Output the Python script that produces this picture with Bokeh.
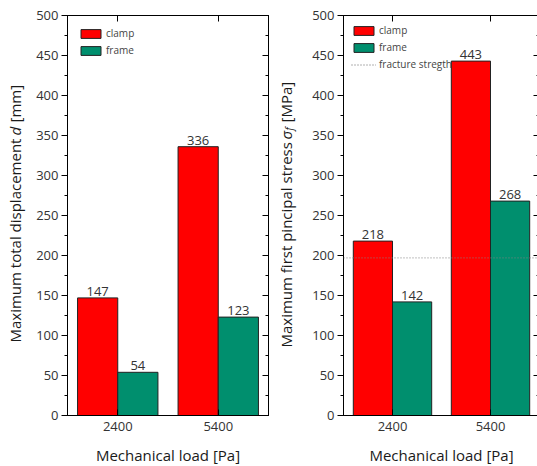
from math import pi
from bokeh.plotting import figure
from bokeh.models import (ColumnDataSource, FactorRange, Range1d, LinearAxis, CategoricalAxis,
                          SingleIntervalTicker, Span, Legend, LegendItem, CustomLabelingPolicy)
from bokeh.transform import dodge
from bokeh.core.properties import value
from bokeh.layouts import row
from bokeh.embed import file_html
from bokeh.resources import INLINE

# ---- data ----
loads = ["2400", "5400"]
disp_clamp = [147, 336]
disp_frame = [54, 123]
stress_clamp = [218, 443]
stress_frame = [142, 268]
fracture_strength = 197
series_names = ["clamp", "frame"]
fracture_name = "fracture stregth"
x_label = "Mechanical load [Pa]"

RED = "#FF0000"
GREEN = "#008F6E"
FONT = "Open Sans"
TICK_COLOR = "#333333"
LABEL_COLOR = "#1a1a1a"
TOP, BOTTOM, FH = 15, 51, 400


def no_labels():
    return CustomLabelingPolicy(code="for (const i of indices) indices.unset(i)\nreturn indices")


def make_panel(clamp, frame, fw, border_left, border_right, legend_margin, fracture=None):
    src = ColumnDataSource(dict(load=loads, clamp=clamp, frame=frame,
                                clamp_txt=[str(v) for v in clamp],
                                frame_txt=[str(v) for v in frame]))
    p = figure(x_range=FactorRange(factors=loads, range_padding=0),
               y_range=Range1d(0, 500),
               frame_width=fw, frame_height=FH,
               min_border_left=border_left, min_border_right=border_right,
               min_border_top=TOP, min_border_bottom=BOTTOM,
               output_backend="svg", toolbar_location=None,
               y_axis_location=None)
    p.xgrid.visible = False
    p.ygrid.visible = False
    p.outline_line_color = "black"
    p.outline_line_width = 1

    yl = LinearAxis(ticker=SingleIntervalTicker(interval=50, num_minor_ticks=2),
                    major_tick_out=6, major_tick_in=0, minor_tick_out=3, minor_tick_in=0,
                    major_label_standoff=3,
                    major_label_text_font=FONT, major_label_text_font_size="13px",
                    major_label_text_color=TICK_COLOR,
                    axis_line_color="black", major_tick_line_color="black",
                    minor_tick_line_color="black")
    p.add_layout(yl, "left")
    yr = LinearAxis(ticker=SingleIntervalTicker(interval=50, num_minor_ticks=2),
                    major_tick_out=0, major_tick_in=6, minor_tick_out=0, minor_tick_in=3,
                    major_label_standoff=0, major_label_text_font_size="1px",
                    major_label_policy=no_labels(),
                    axis_line_color="black", major_tick_line_color="black",
                    minor_tick_line_color="black")
    p.add_layout(yr, "right")
    xa = p.xaxis[0]
    xa.major_tick_in = 6
    xa.major_tick_out = 0
    xa.major_label_standoff = 6
    xa.major_label_text_font = FONT
    xa.major_label_text_font_size = "13px"
    xa.major_label_text_color = TICK_COLOR
    xa.axis_label = x_label
    xa.axis_label_text_font = FONT
    xa.axis_label_text_font_size = "15px"
    xa.axis_label_text_font_style = "normal"
    xa.axis_label_text_color = LABEL_COLOR
    xa.axis_label_standoff = 11
    xa.axis_line_color = "black"
    xa.major_tick_line_color = "black"
    xt = CategoricalAxis(major_tick_out=0, major_tick_in=6, major_label_standoff=0,
                         major_label_text_font_size="1px", major_label_policy=no_labels(),
                         axis_line_color="black", major_tick_line_color="black")
    p.add_layout(xt, "above")

    r1 = p.vbar(x=dodge("load", -0.2, range=p.x_range), top="clamp", width=0.4, source=src,
                fill_color=RED, line_color="#222222", line_width=1)
    r2 = p.vbar(x=dodge("load", 0.2, range=p.x_range), top="frame", width=0.4, source=src,
                fill_color=GREEN, line_color="#222222", line_width=1)
    for off, col in ((-0.2, "clamp"), (0.2, "frame")):
        p.text(x=dodge("load", off, range=p.x_range), y=col, text=col + "_txt", source=src,
               text_align="center", text_baseline="bottom", y_offset=-2,
               text_font=value(FONT), text_font_size="13px", text_color=TICK_COLOR)

    items = [LegendItem(label=series_names[0], renderers=[r1]),
             LegendItem(label=series_names[1], renderers=[r2])]
    if fracture is not None:
        p.add_layout(Span(location=fracture, dimension="width", line_color="#808080",
                          line_dash="1 2", line_width=1))
        r3 = p.line(x=[loads[0]], y=[fracture], line_color="#606060", line_dash="1 2",
                    line_width=1)
        items.append(LegendItem(label=fracture_name, renderers=[r3]))
    leg = Legend(items=items, location="top_left", margin=legend_margin, padding=0, spacing=3,
                 glyph_width=25, glyph_height=11, label_height=11, label_standoff=3,
                 label_text_font=FONT, label_text_font_size="10px",
                 label_text_color="#444444", border_line_alpha=0,
                 background_fill_alpha=0)
    p.add_layout(leg)
    return p


def make_ylabel(width, segments):
    # narrow helper figure holding a rotated, mixed-style axis title
    q = figure(x_range=Range1d(0, width), y_range=Range1d(0, FH),
               frame_width=width, frame_height=FH,
               min_border_left=0, min_border_right=0,
               min_border_top=TOP, min_border_bottom=BOTTOM,
               x_axis_location=None, y_axis_location=None,
               output_backend="svg", toolbar_location=None)
    q.xgrid.visible = False
    q.ygrid.visible = False
    q.outline_line_color = None
    for txt, ys, xs, size, style in segments:
        q.text(x=[xs], y=[ys], text=[txt], angle=pi / 2,
               text_font=value(FONT), text_font_size=size, text_font_style=style,
               text_color=LABEL_COLOR, text_align="left", text_baseline="alphabetic")
    return q


seg_left = [("Maximum total displacement", 73, 14.5, "15px", "normal"),
            ("d", 280, 14.5, "15px", "italic"),
            ("[mm]", 293, 14.5, "15px", "normal")]
seg_right = [("Maximum first pincipal stress", 68, 12.5, "15px", "normal"),
             ("σ", 276, 12.5, "15px", "italic"),
             ("f", 285, 15.5, "10px", "italic"),
             ("[MPa]", 293, 12.5, "15px", "normal")]

lab1 = make_ylabel(30, seg_left)
p1 = make_panel(disp_clamp, disp_frame, 201, 37, 2, 11)
lab2 = make_ylabel(30, seg_right)
p2 = make_panel(stress_clamp, stress_frame, 196, 40, 1, 8, fracture=fracture_strength)

layout = row(lab1, p1, lab2, p2)
open("out.html", "w").write(file_html(layout, INLINE))
